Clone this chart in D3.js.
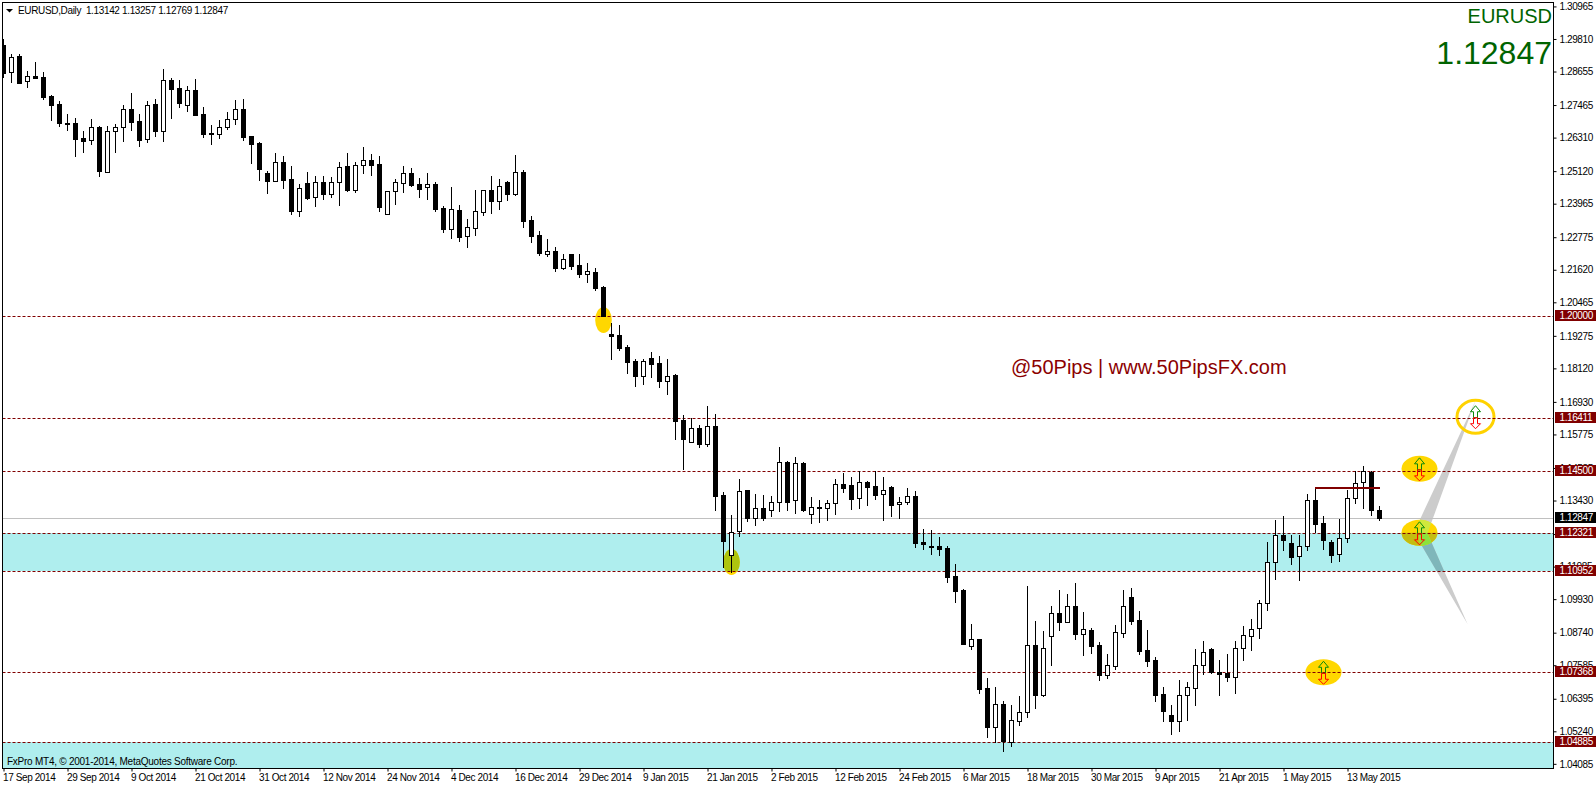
<!DOCTYPE html>
<html><head><meta charset="utf-8">
<script src="https://cdn.jsdelivr.net/npm/d3@7"></script>
<style>html,body{margin:0;padding:0;background:#fff;overflow:hidden}svg{display:block}text{font-family:"Liberation Sans",Arial,sans-serif}</style>
</head><body><div id="c"></div>
<script>
const opens=[1.2963,1.2866,1.2924,1.2834,1.2852,1.2848,1.2782,1.2754,1.2686,1.2686,1.2633,1.2625,1.2672,1.2511,1.2657,1.2671,1.2736,1.2693,1.2631,1.2754,1.2657,1.2839,1.2809,1.2751,1.2803,1.2718,1.2651,1.2646,1.2673,1.2699,1.2736,1.2640,1.2615,1.2509,1.2482,1.2547,1.2487,1.2375,1.2473,1.2422,1.2477,1.2435,1.2476,1.2534,1.2450,1.2536,1.2554,1.2541,1.2362,1.2444,
1.2475,1.2508,1.2469,1.2460,1.2469,1.2384,1.2311,1.2376,1.2287,1.2315,1.2372,1.2447,1.2411,1.2476,1.2436,1.2511,1.2341,1.2288,1.2223,1.2231,1.2173,1.2220,1.2181,1.2152,1.2156,1.2103,1.1938,1.1933,1.1890,1.1841,1.1790,1.1851,1.1833,1.1771,1.1791,
1.1631,1.1553,1.1603,1.1548,1.1610,1.1365,1.1152,1.1240,1.1383,1.1286,1.1319,1.1312,1.1340,1.1483,1.1347,1.1479,1.1298,1.1324,1.1319,1.1337,1.1404,1.1400,1.1354,1.1411,1.1397,1.1369,1.1393,1.1333,1.1340,1.1362,1.1198,1.1185,1.1185,1.1178,1.1077,
1.1029,1.0832,1.0855,1.0680,1.0544,1.0624,1.0488,1.0565,1.0595,1.0834,1.0658,1.0867,1.0947,1.0917,1.0972,1.0874,1.0887,1.0834,1.0729,1.0761,1.0878,1.1004,1.0923,1.0816,1.0781,1.0660,1.0585,1.0565,1.0655,1.0682,1.0762,1.0820,1.0737,1.0736,1.0722,1.0822,1.0865,1.0893,1.0982,
1.1127,1.1224,1.1195,1.1149,1.1184,1.1347,1.1266,1.1198,1.1156,1.1212,1.1354,1.1411,1.1449,1.13142];
const highs=[1.2983,1.2930,1.2931,1.2871,1.2903,1.2867,1.2784,1.2763,1.2718,1.2704,1.2657,1.2700,1.2676,1.2676,1.2683,1.2749,1.2793,1.2717,1.2763,1.2771,1.2878,1.2845,1.2839,1.2818,1.2842,1.2743,1.2678,1.2697,1.2725,1.2768,1.2771,1.2640,1.2618,1.2515,1.2579,1.2569,1.2534,1.2470,1.2512,1.2499,1.2498,1.2495,1.2547,1.2580,1.2548,1.2601,1.2576,1.2569,1.2444,1.2487,
1.2534,1.2527,1.2491,1.2509,1.2477,1.2391,1.2459,1.2395,1.2346,1.2449,1.2447,1.2498,1.2486,1.2481,1.2573,1.2520,1.2356,1.2303,1.2275,1.2246,1.2221,1.2221,1.2221,1.2189,1.2172,1.2108,1.1977,1.1970,1.1899,1.1848,1.1848,1.1874,1.1859,1.1849,1.1794,
1.1650,1.1639,1.1615,1.1682,1.1654,1.1377,1.1295,1.1423,1.1384,1.1370,1.1366,1.1363,1.1537,1.1487,1.1501,1.1483,1.1359,1.1348,1.1348,1.1423,1.1444,1.1430,1.1451,1.1416,1.1451,1.1430,1.1398,1.1359,1.1391,1.1380,1.1245,1.1242,1.1217,1.1185,1.1121,
1.1031,1.0908,1.0855,1.0717,1.0685,1.0635,1.0621,1.0653,1.1043,1.0919,1.0884,1.0972,1.1029,1.1015,1.1054,1.0951,1.0894,1.0845,1.0802,1.0905,1.1029,1.1036,1.0955,1.0887,1.0791,1.0685,1.0621,1.0710,1.0702,1.0820,1.0848,1.0823,1.0781,1.0802,1.0848,1.0901,1.0926,1.0994,1.1199,
1.1277,1.1292,1.1224,1.1224,1.1369,1.1390,1.1292,1.1206,1.1281,1.1383,1.1450,1.1469,1.1451,1.13257];
const lows=[1.2851,1.2833,1.2829,1.2815,1.2845,1.2773,1.2697,1.2677,1.2661,1.2570,1.2583,1.2613,1.2499,1.2511,1.2583,1.2624,1.2661,1.2606,1.2619,1.2641,1.2624,1.2705,1.2744,1.2730,1.2716,1.2638,1.2613,1.2634,1.2666,1.2683,1.2626,1.2545,1.2484,1.2439,1.2482,1.2457,1.2364,1.2356,1.2418,1.2392,1.2418,1.2425,1.2396,1.2446,1.2441,1.2510,1.2502,1.2375,1.2362,1.2399,
1.2441,1.2463,1.2424,1.2417,1.2374,1.2300,1.2278,1.2268,1.2246,1.2289,1.2360,1.2367,1.2381,1.2413,1.2431,1.2317,1.2264,1.2218,1.2214,1.2161,1.2168,1.2168,1.2140,1.2122,1.2094,1.2001,1.1849,1.1881,1.1799,1.1754,1.1761,1.1785,1.1751,1.1725,1.1565,
1.1458,1.1553,1.1536,1.1540,1.1313,1.1112,1.1094,1.1222,1.1274,1.1260,1.1277,1.1292,1.1309,1.1313,1.1302,1.1309,1.1267,1.1270,1.1277,1.1299,1.1377,1.1316,1.1320,1.1331,1.1352,1.1277,1.1292,1.1285,1.1334,1.1182,1.1174,1.1157,1.1153,1.1057,1.0987,
1.0837,1.0820,1.0664,1.0507,1.0490,1.0458,1.0475,1.0550,1.0578,1.0610,1.0654,1.0763,1.0887,1.0916,1.0855,1.0798,1.0805,1.0710,1.0717,1.0749,1.0862,1.0908,1.0802,1.0759,1.0636,1.0564,1.0518,1.0529,1.0568,1.0621,1.0731,1.0734,1.0656,1.0706,1.0664,1.0781,1.0816,1.0859,1.0958,
1.1068,1.1171,1.1121,1.1064,1.1172,1.1235,1.1175,1.1128,1.1133,1.1198,1.1338,1.1320,1.1295,1.12769];
const closes=[1.2865,1.2922,1.2829,1.2852,1.2847,1.2780,1.2751,1.2685,1.2682,1.2631,1.2624,1.2671,1.2516,1.2657,1.2671,1.2735,1.2691,1.2627,1.2752,1.2657,1.2838,1.2808,1.2758,1.2802,1.2716,1.2648,1.2646,1.2671,1.2699,1.2735,1.2638,1.2613,1.2524,1.2482,1.2547,1.2485,1.2375,1.2454,1.2421,1.2476,1.2435,1.2476,1.2529,1.2448,1.2536,1.2554,1.2538,1.2389,1.2444,1.2476,
1.2508,1.2466,1.2453,1.2469,1.2382,1.2311,1.2380,1.2283,1.2316,1.2373,1.2447,1.2411,1.2462,1.2436,1.2511,1.2340,1.2287,1.2226,1.2231,1.2173,1.2202,1.2180,1.2152,1.2160,1.2102,1.2001,1.1932,1.1888,1.1839,1.1790,1.1841,1.1832,1.1771,1.1787,1.1630,
1.1566,1.1603,1.1548,1.1610,1.1364,1.1204,1.1236,1.1379,1.1286,1.1319,1.1286,1.1340,1.1482,1.1343,1.1479,1.1314,1.1322,1.1320,1.1337,1.1404,1.1392,1.1353,1.1411,1.1396,1.1367,1.1383,1.1332,1.1340,1.1362,1.1197,1.1193,1.1183,1.1176,1.1076,1.1027,
1.0837,1.0854,1.0679,1.0544,1.0623,1.0493,1.0566,1.0595,1.0833,1.0658,1.0822,1.0946,1.0917,1.0971,1.0874,1.0890,1.0830,1.0729,1.0762,1.0879,1.0971,1.0920,1.0813,1.0777,1.0658,1.0600,1.0564,1.0655,1.0684,1.0762,1.0808,1.0737,1.0732,1.0722,1.0822,1.0868,1.0890,1.0982,1.1127,
1.1223,1.1208,1.1147,1.1184,1.1347,1.1264,1.1208,1.1154,1.1212,1.1354,1.1408,1.1450,1.1314,1.12847];
const dateLabels=["17 Sep 2014","29 Sep 2014","9 Oct 2014","21 Oct 2014","31 Oct 2014","12 Nov 2014","24 Nov 2014","4 Dec 2014","16 Dec 2014","29 Dec 2014","9 Jan 2015","21 Jan 2015","2 Feb 2015","12 Feb 2015","24 Feb 2015","6 Mar 2015","18 Mar 2015","30 Mar 2015","9 Apr 2015","21 Apr 2015","1 May 2015","13 May 2015"];
const priceTicks=["1.30965","1.29810","1.28655","1.27465","1.26310","1.25120","1.23965","1.22775","1.21620","1.20465","1.19275","1.18120","1.16930","1.15775","1.14585","1.13430","1.12240","1.11085","1.09930","1.08740","1.07585","1.06395","1.05240","1.04085"];
const levels=["1.20000","1.16411","1.14500","1.12321","1.10952","1.07368","1.04885"];
const lastPrice="1.12847";
const zones=[[1.12321,1.10952],[1.04885,1.03800]];
const titleText="EURUSD,Daily  1.13142 1.13257 1.12769 1.12847";
const smallMarks=[[75,1.1987],[91,1.1128]];
const bigMarks=[[177,1.1232],[177,1.1459],[165,1.0737]];
const ringMark=[184,1.1644];
const resistance=[164,172,1.1391];
const wedge=[[184,1.1701],[177,1.1276],[177,1.1200],[183,1.0908],[178,1.1230]];

const W=1596,H=786,L=2.5,R=1553.5,T=2.5,B=768.5;
const x=d3.scaleLinear().domain([0,1]).range([3,11]);
const y=d3.scaleLinear().domain([1.2,1.04885]).range([316.4,742.3]);
const ry=v=>Math.round(y(v));
const svg=d3.select("#c").append("svg").attr("width",W).attr("height",H);
const defs=svg.append("defs");
defs.append("clipPath").attr("id","plot").append("rect").attr("x",L).attr("y",T).attr("width",R-L).attr("height",B-T);
defs.append("clipPath").attr("id","band").append("rect").attr("x",L).attr("width",R-L).attr("y",y(zones[0][0])).attr("height",y(zones[0][1])-y(zones[0][0]));
const wedgePts=wedge.map(d=>[x(d[0])+.5,y(d[1])].join(",")).join(" ");
defs.append("clipPath").attr("id","wedge").append("polygon").attr("points",wedgePts);
const [mi,mp]=bigMarks[0];
defs.append("clipPath").attr("id","ell").append("ellipse").attr("cx",x(mi)+.5).attr("cy",y(mp)).attr("rx",18).attr("ry",13);

const g=svg.append("g").attr("clip-path","url(#plot)");
g.selectAll("rect.zone").data(zones).join("rect").attr("class","zone").attr("x",L).attr("width",R-L)
 .attr("y",d=>ry(d[0])).attr("height",d=>ry(d[1])-ry(d[0])).attr("fill","#afeeee");

// wedge and markers
g.append("polygon").attr("points",wedgePts).attr("fill","#cccccc");
g.append("polygon").attr("points",wedgePts).attr("fill","#7fb6ba").attr("clip-path","url(#band)");
smallMarks.forEach(m=>{
  g.append("ellipse").attr("cx",x(m[0])+.5).attr("cy",y(m[1])).attr("rx",8.3).attr("ry",13).attr("fill","#ffd700");
  g.append("ellipse").attr("cx",x(m[0])+.5).attr("cy",y(m[1])).attr("rx",8.3).attr("ry",13).attr("fill","#aec40e").attr("clip-path","url(#band)");
});
bigMarks.forEach(m=>{
  g.append("ellipse").attr("cx",x(m[0])+.5).attr("cy",y(m[1])).attr("rx",18).attr("ry",13).attr("fill","#ffd700");
});
g.append("g").attr("clip-path","url(#band)").append("ellipse").attr("cx",x(mi)+.5).attr("cy",y(mp)).attr("rx",18).attr("ry",13).attr("fill","#c4bc10");
g.append("g").attr("clip-path","url(#ell)").append("polygon").attr("points",wedgePts).attr("fill","#cfe83c");
g.append("g").attr("clip-path","url(#band)").append("g").attr("clip-path","url(#ell)").append("polygon").attr("points",wedgePts).attr("fill","#8ce23c");
g.append("ellipse").attr("cx",x(ringMark[0])+.5).attr("cy",y(ringMark[1])).attr("rx",18.5).attr("ry",16.5).attr("fill","none").attr("stroke","#ffd200").attr("stroke-width",3);

// lines
g.append("line").attr("x1",L).attr("x2",R).attr("y1",ry(+lastPrice)+.5).attr("y2",ry(+lastPrice)+.5).attr("stroke","#c0c0c0");
g.selectAll("line.lvl").data(levels).join("line").attr("class","lvl").attr("x1",L).attr("x2",R)
 .attr("y1",d=>ry(+d)+.5).attr("y2",d=>ry(+d)+.5).attr("stroke","#800000").attr("stroke-dasharray","3,2");

// candles
const idx=d3.range(opens.length);
const c=g.append("g").attr("shape-rendering","crispEdges");
c.selectAll("line").data(idx).join("line").attr("x1",i=>x(i)+.5).attr("x2",i=>x(i)+.5)
 .attr("y1",i=>ry(highs[i])).attr("y2",i=>ry(lows[i])+1).attr("stroke","#000");
c.selectAll("rect").data(idx).join("rect").attr("x",i=>x(i)-1.5).attr("width",4)
 .attr("y",i=>ry(Math.max(opens[i],closes[i]))+.5).attr("height",i=>Math.max(1,ry(Math.min(opens[i],closes[i]))-ry(Math.max(opens[i],closes[i]))))
 .attr("fill",i=>closes[i]>opens[i]?"#fff":"#000").attr("stroke","#000");

// resistance stroke
g.append("line").attr("x1",x(resistance[0])).attr("x2",x(resistance[1])+1).attr("y1",y(resistance[2])).attr("y2",y(resistance[2])).attr("stroke","#800000").attr("stroke-width",2);

// arrows
function arrows(m){
  const cx=x(m[0])+.5,cy=y(m[1]);
  const a=g.append("g").attr("transform",`translate(${cx},${cy})`).attr("fill","none").attr("stroke-width",1);
  a.append("path").attr("d","M-2,1V-5H-5L0,-11L5,-5H2V1Z").attr("stroke","#0a8a0a");
  a.append("path").attr("d","M-2,1V7H-5L0,12L5,7H2V1Z").attr("stroke","#ff0000");
}
bigMarks.forEach(arrows); arrows(ringMark);

// frame
svg.append("rect").attr("x",L).attr("y",T).attr("width",R-L).attr("height",B-T).attr("fill","none").attr("stroke","#000").attr("shape-rendering","crispEdges");

// title
svg.append("path").attr("d","M6,9H13L9.5,12.5Z").attr("fill","#000");
svg.append("text").attr("x",18).attr("y",14).attr("font-size",10).attr("letter-spacing",-0.35).attr("fill","#000").style("white-space","pre").text(titleText);
svg.append("text").attr("x",7).attr("y",765).attr("font-size",10).attr("letter-spacing",-0.25).attr("fill","#000").text("FxPro MT4, © 2001-2014, MetaQuotes Software Corp.");
svg.append("text").attr("x",1552).attr("y",23).attr("text-anchor","end").attr("font-size",20).attr("fill","#006400").text("EURUSD");
svg.append("text").attr("x",1552).attr("y",64).attr("text-anchor","end").attr("font-size",32).attr("fill","#006400").text(lastPrice);
svg.append("text").attr("x",1011).attr("y",374).attr("font-size",20).attr("fill","#8b0000").text("@50Pips | www.50PipsFX.com");

// axes
const xAxis=d3.axisBottom(d3.scaleLinear().domain([0,1]).range([3.5,3.5+64])).tickValues(d3.range(dateLabels.length)).tickFormat(i=>dateLabels[i]).tickSize(3).tickSizeOuter(0);
const xg=svg.append("g").attr("transform",`translate(0,${B})`).call(xAxis);
xg.select(".domain").remove();
xg.selectAll("text").attr("text-anchor","start").attr("x",-1).attr("y",5).attr("font-size",10).attr("letter-spacing",-0.4).attr("fill","#000");
const yAxis=d3.axisRight(y).tickValues(priceTicks.map(Number)).tickFormat(d3.format(".5f")).tickSize(3).tickSizeOuter(0);
const yg=svg.append("g").attr("transform",`translate(${R},-1)`).call(yAxis);
yg.select(".domain").remove();
yg.selectAll("text").attr("x",6).attr("font-size",10).attr("letter-spacing",-0.4).attr("fill","#000");

// level boxes
const boxes=levels.map(l=>[l,"#800000"]).concat([[lastPrice,"#000000"]]);
const bg=svg.append("g");
bg.selectAll("rect").data(boxes).join("rect").attr("x",R+1.5).attr("width",W-R-1.5)
 .attr("y",d=>ry(+d[0])-6).attr("height",11).attr("fill",d=>d[1]);
bg.selectAll("text").data(boxes).join("text").attr("x",R+6).attr("y",d=>ry(+d[0])+3).attr("font-size",10).attr("letter-spacing",-0.4).attr("fill","#fff").text(d=>d[0]);
</script></body></html>
